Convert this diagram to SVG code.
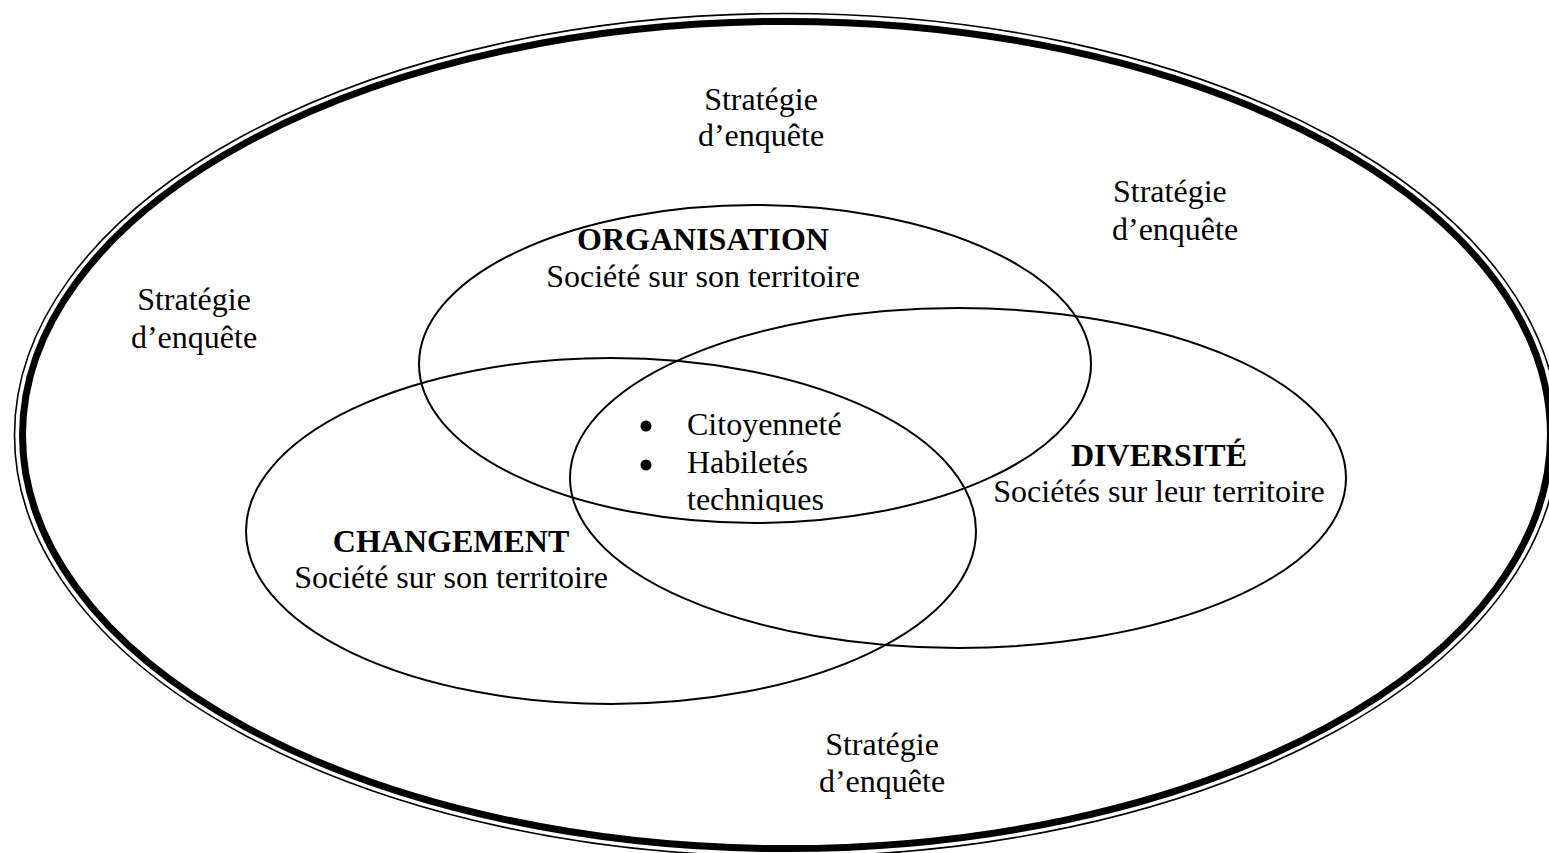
<svg xmlns="http://www.w3.org/2000/svg" width="1549" height="853" viewBox="0 0 1549 853">
<style>
.t{font-family:"Liberation Serif","Times New Roman",serif;font-size:32px;fill:#000}
.b{font-weight:bold}
.c{text-anchor:middle}
.e{fill:none;stroke:#000;stroke-width:2}
.dot{fill:#000}
</style>
<defs>
<clipPath id="clipInner"><rect x="600" y="395" width="300" height="117"/></clipPath>
</defs>
<rect width="1549" height="853" fill="#fff"/>
<g id="outer">
<ellipse cx="786.5" cy="435" rx="772" ry="421.5" fill="none" stroke="#000" stroke-width="1.6"/>
<ellipse cx="786.5" cy="435" rx="764" ry="413.6" fill="none" stroke="#000" stroke-width="7"/>
</g>
<g id="organisation">
<ellipse class="e" cx="755" cy="364" rx="336" ry="159"/>
<text class="t b c" x="703" y="250">ORGANISATION</text>
<text class="t c" x="703" y="287">Société sur son territoire</text>
</g>
<g id="diversite">
<ellipse class="e" cx="958" cy="478" rx="388" ry="170"/>
<text class="t b c" x="1159" y="466">DIVERSITÉ</text>
<text class="t c" x="1159" y="502">Sociétés sur leur territoire</text>
</g>
<g id="changement">
<ellipse class="e" cx="611" cy="531" rx="365" ry="173"/>
<text class="t b c" x="451" y="552">CHANGEMENT</text>
<text class="t c" x="451" y="588">Société sur son territoire</text>
</g>
<g id="centre" clip-path="url(#clipInner)">
<circle class="dot" cx="646" cy="426" r="5.5"/>
<text class="t" x="687" y="435">Citoyenneté</text>
<circle class="dot" cx="646" cy="465" r="5.5"/>
<text class="t" x="687" y="473">Habiletés</text>
<text class="t" x="687" y="510">techniques</text>
</g>
<g id="strat-top">
<text class="t c" x="761" y="110">Stratégie</text>
<text class="t c" x="761" y="146">d’enquête</text>
</g>
<g id="strat-right">
<text class="t" x="1113" y="202">Stratégie</text>
<text class="t" x="1112" y="240">d’enquête</text>
</g>
<g id="strat-left">
<text class="t c" x="194" y="310">Stratégie</text>
<text class="t c" x="194" y="348">d’enquête</text>
</g>
<g id="strat-bottom">
<text class="t c" x="882" y="755">Stratégie</text>
<text class="t c" x="882" y="792">d’enquête</text>
</g>
<g id="connectors"/>
</svg>
